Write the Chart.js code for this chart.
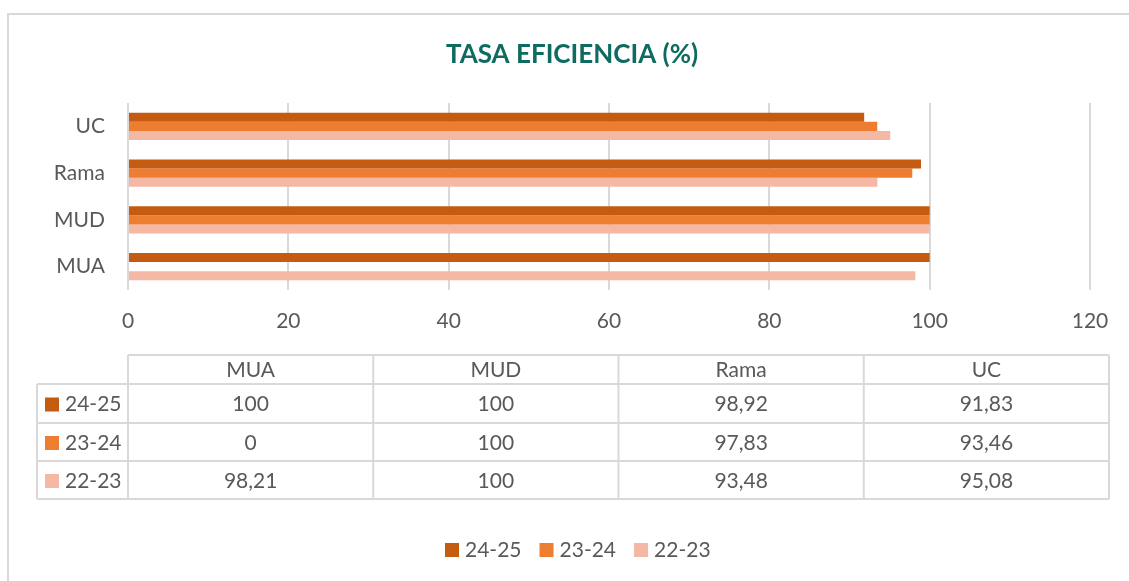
<!DOCTYPE html>
<html>
<head>
<meta charset="utf-8">
<script src="https://cdn.jsdelivr.net/npm/chart.js@4/dist/chart.umd.min.js"></script>
<style>
  html, body { margin: 0; padding: 0; background: #ffffff; }
  #wrap { width: 1129px; height: 581px; position: relative; }
</style>
</head>
<body>
<div id="wrap"><canvas id="c" width="1129" height="581"></canvas></div>
<script>
// ---- Data ----
const categories = ['MUA', 'MUD', 'Rama', 'UC'];
const seriesNames = ['24-25', '23-24', '22-23'];
const values2425 = [100, 100, 98.92, 91.83];
const values2324 = [0, 100, 97.83, 93.46];
const values2223 = [98.21, 100, 93.48, 95.08];
const xTicks = [0, 20, 40, 60, 80, 100, 120];
const chartTitle = 'TASA EFICIENCIA (%)';

// ---- Styles ----
const seriesColors = ['#C55A11', '#ED7D31', '#F4B8A4'];
const textColor = '#595959';
const titleColor = '#0E6B60';
const lineColor = '#d9d9d9';
const fontFamily = 'Lato, "Open Sans", sans-serif';
const baseFontSize = 21;

const seriesValues = [values2425, values2324, values2223];
// Chart draws categories top-to-bottom in reverse order of the table
const chartLabels = categories.slice().reverse();

const datasets = seriesNames.map((name, i) => ({
  label: name,
  data: seriesValues[i].slice().reverse(),
  backgroundColor: seriesColors[i],
  borderWidth: 0,
  categoryPercentage: 0.578,
  barPercentage: 1.0
}));

function fmt(v) { return String(v).replace('.', ','); }

const framePlugin = {
  id: 'frame',
  beforeDraw(chart) {
    const ctx = chart.ctx;
    ctx.save();
    ctx.strokeStyle = lineColor;
    ctx.lineWidth = 2;
    ctx.beginPath();
    ctx.moveTo(8, chart.height);
    ctx.lineTo(8, 14);
    ctx.lineTo(chart.width, 14);
    ctx.stroke();
    // title
    ctx.font = 'bold 26px ' + fontFamily;
    ctx.fillStyle = titleColor;
    ctx.textAlign = 'center';
    ctx.textBaseline = 'alphabetic';
    ctx.fillText(chartTitle, 572, 63);
    ctx.restore();
  }
};

const tablePlugin = {
  id: 'dataTable',
  afterDraw(chart) {
    const ctx = chart.ctx;
    const ca = chart.chartArea;
    const left = 37;
    const colStart = ca.left;
    const right = 1109;
    const rowsY = [355, 384, 423, 461, 499];
    const nCols = categories.length;
    const colW = (right - colStart) / nCols;

    ctx.save();
    ctx.strokeStyle = lineColor;
    ctx.lineWidth = 2;
    ctx.beginPath();
    ctx.moveTo(colStart, rowsY[0]); ctx.lineTo(right, rowsY[0]);
    for (let r = 1; r < rowsY.length; r++) {
      ctx.moveTo(left, rowsY[r]); ctx.lineTo(right, rowsY[r]);
    }
    ctx.moveTo(left, rowsY[1]); ctx.lineTo(left, rowsY[rowsY.length - 1]);
    for (let c = 0; c <= nCols; c++) {
      const x = colStart + c * colW;
      ctx.moveTo(x, rowsY[0]); ctx.lineTo(x, rowsY[rowsY.length - 1]);
    }
    ctx.stroke();

    ctx.font = baseFontSize + 'px ' + fontFamily;
    ctx.fillStyle = textColor;
    ctx.textBaseline = 'middle';
    ctx.textAlign = 'center';
    categories.forEach((cat, c) => {
      ctx.fillText(cat, colStart + (c + 0.5) * colW, (rowsY[0] + rowsY[1]) / 2 + 1);
    });
    seriesNames.forEach((name, r) => {
      const yc = (rowsY[r + 1] + rowsY[r + 2]) / 2 + 1;
      ctx.fillStyle = seriesColors[r];
      ctx.fillRect(45, yc - 7, 14, 14);
      ctx.fillStyle = textColor;
      ctx.textAlign = 'left';
      ctx.fillText(name, 65, yc);
      ctx.textAlign = 'center';
      seriesValues[r].forEach((v, c) => {
        ctx.fillText(fmt(v), colStart + (c + 0.5) * colW, yc);
      });
    });

    // legend
    const ly = 550;
    let x = 445;
    ctx.textAlign = 'left';
    seriesNames.forEach((name, i) => {
      ctx.fillStyle = seriesColors[i];
      ctx.fillRect(x, ly - 7, 14, 14);
      ctx.fillStyle = textColor;
      ctx.fillText(name, x + 20, ly);
      x += 20 + ctx.measureText(name).width + 18;
    });
    ctx.restore();
  }
};

new Chart(document.getElementById('c'), {
  type: 'bar',
  data: { labels: chartLabels, datasets },
  options: {
    indexAxis: 'y',
    responsive: false,
    animation: false,
    layout: { padding: { left: 0, right: 39, top: 103, bottom: 0 } },
    plugins: {
      legend: { display: false },
      tooltip: { enabled: false },
      title: { display: false }
    },
    scales: {
      x: {
        min: xTicks[0],
        max: xTicks[xTicks.length - 1],
        afterBuildTicks(scale) { scale.ticks = xTicks.map(v => ({ value: v })); },
        afterFit(scale) { scale.height = 291; },
        grid: { color: lineColor, lineWidth: 2, drawTicks: false },
        border: { display: false },
        ticks: { color: textColor, padding: 19, font: { family: fontFamily, size: baseFontSize } }
      },
      y: {
        afterFit(scale) { scale.width = 128; },
        grid: { display: false, drawTicks: false },
        border: { display: false },
        ticks: { color: textColor, padding: 23, font: { family: fontFamily, size: baseFontSize } }
      }
    }
  },
  plugins: [framePlugin, tablePlugin]
});
</script>
</body>
</html>
